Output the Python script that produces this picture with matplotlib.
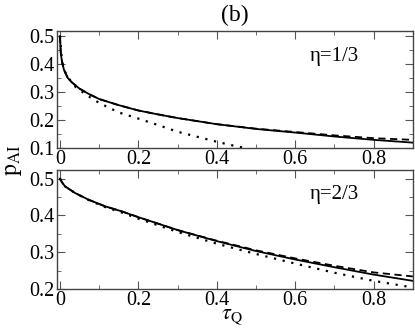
import matplotlib
matplotlib.use("Agg")
import matplotlib.pyplot as plt
from matplotlib.ticker import MultipleLocator

plt.rcParams['font.family'] = 'serif'
plt.rcParams['font.serif'] = ['Liberation Serif', 'DejaVu Serif']
plt.rcParams['mathtext.fontset'] = 'stix'

# ---- data: panel eta=1/3 ----
tau_a = [0, 0.002, 0.005, 0.01, 0.02, 0.03, 0.05, 0.075, 0.1, 0.15, 0.2, 0.25,
         0.3, 0.4, 0.5, 0.6, 0.7, 0.8, 0.9]
solid_a = [0.5, 0.44, 0.41, 0.38, 0.35, 0.335, 0.312, 0.292, 0.275, 0.253, 0.234,
           0.22, 0.207, 0.185, 0.168, 0.155, 0.141, 0.129, 0.119]
dashed_a = [0.5, 0.44, 0.41, 0.38, 0.35, 0.335, 0.312, 0.292, 0.275, 0.253, 0.234,
            0.22, 0.207, 0.185, 0.169, 0.157, 0.145, 0.135, 0.129]
tau_a_dot = [0, 0.005, 0.01, 0.02, 0.04, 0.07, 0.1, 0.15, 0.2, 0.25, 0.3, 0.35,
             0.4, 0.45, 0.48]
dotted_a = [0.5, 0.41, 0.38, 0.353, 0.318, 0.287, 0.261, 0.227, 0.205, 0.182,
            0.158, 0.14, 0.122, 0.106, 0.098]

# ---- data: panel eta=2/3 ----
tau_b = [0, 0.005, 0.0127, 0.038, 0.072, 0.114, 0.157, 0.2, 0.3, 0.4, 0.5, 0.6,
         0.7, 0.8, 0.9]
solid_b = [0.5, 0.49, 0.479, 0.461, 0.443, 0.425, 0.411, 0.395, 0.36, 0.330,
           0.303, 0.280, 0.259, 0.239, 0.222]
dashed_b = [0.5, 0.49, 0.479, 0.461, 0.443, 0.425, 0.411, 0.395, 0.36, 0.331,
            0.305, 0.283, 0.263, 0.245, 0.234]
dotted_b = [0.5, 0.49, 0.479, 0.461, 0.442, 0.423, 0.408, 0.391, 0.355, 0.323,
            0.295, 0.269, 0.244, 0.222, 0.204]

xticks = [0, 0.2, 0.4, 0.6, 0.8]
xticklabels = ['0', '0.2', '0.4', '0.6', '0.8']

fig = plt.figure(figsize=(4.15, 3.31), dpi=100)
ax1 = fig.add_axes([0.137, 0.553, 0.858, 0.353])
ax2 = fig.add_axes([0.137, 0.127, 0.858, 0.358])

lw = 1.3
for ax in (ax1, ax2):
    ax.set_xlim(-0.008, 0.9)
    ax.set_xticks(xticks)
    ax.set_xticklabels(xticklabels)
    ax.xaxis.set_minor_locator(MultipleLocator(0.1))
    ax.yaxis.set_minor_locator(MultipleLocator(0.05))
    ax.tick_params(which='both', direction='in', top=True, right=True,
                   labelsize=14.5, color='#555555', pad=1.5)
    ax.tick_params(which='major', length=6)
    ax.tick_params(which='minor', length=3)
    for s in ax.spines.values():
        s.set_color('#444444')
        s.set_linewidth(1.0)

ax1.plot(tau_a, dashed_a, color='black', lw=lw, ls=(0, (4, 2.5)))
ax1.plot(tau_a, solid_a, color='black', lw=lw)
ax1.plot(tau_a_dot, dotted_a, color='black', lw=1.6, ls=(0, (1, 3)))
ax1.set_ylim(0.1, 0.518)
ax1.set_yticks([0.1, 0.2, 0.3, 0.4, 0.5])
ax1.set_yticklabels(['0.1', '0.2', '0.3', '0.4', '0.5'])
ax1.text(0.78, 0.78, 'η=1/3', transform=ax1.transAxes, ha='center', va='center',
         fontsize=15)
ax1.set_title('(b)', fontsize=17, pad=7)

ax2.plot(tau_b, dashed_b, color='black', lw=lw, ls=(0, (4, 2.5)))
ax2.plot(tau_b, solid_b, color='black', lw=lw)
ax2.plot(tau_b, dotted_b, color='black', lw=1.6, ls=(0, (1, 3)))
ax2.set_ylim(0.2, 0.522)
ax2.set_yticks([0.2, 0.3, 0.4, 0.5])
ax2.set_yticklabels(['0.2', '0.3', '0.4', '0.5'])
ax2.text(0.78, 0.8, 'η=2/3', transform=ax2.transAxes, ha='center', va='center',
         fontsize=15)

fig.text(232 / 415, 1 - 316 / 331, r'$\tau_{\rm Q}$', ha='center', va='center',
         fontsize=16)
fig.text(14 / 415, 1 - 160 / 331, r'$\rm p_{\rm AI}$', ha='center', va='center',
         fontsize=17, rotation=90)

fig.savefig('out.png', dpi=100)
